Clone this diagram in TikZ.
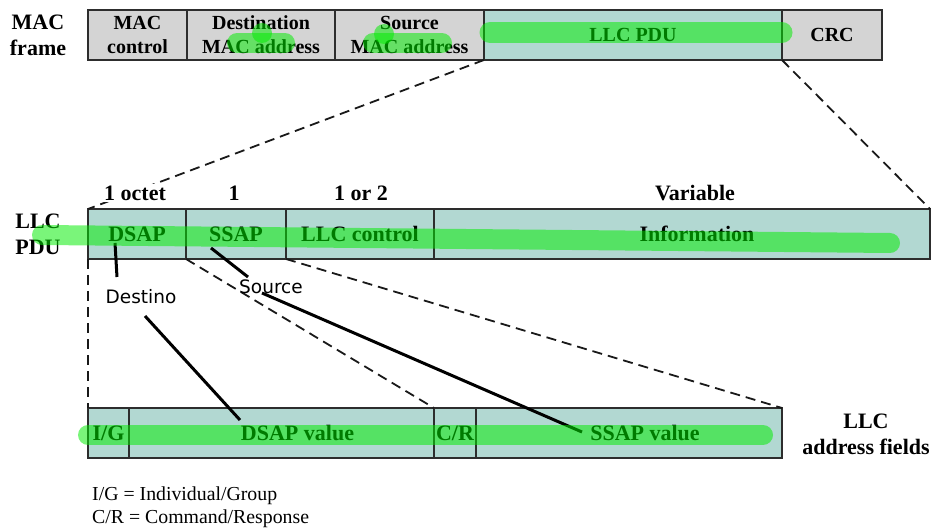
\documentclass[tikz,border=0pt]{standalone}
\usepackage{fontspec}
\setmainfont{Liberation Serif}
\newfontfamily\annfont{DejaVu Sans}
\definecolor{macgray}{RGB}{212,212,212}
\definecolor{llcteal}{RGB}{178,216,210}
\definecolor{boxline}{RGB}{45,45,45}
\definecolor{hlgreen}{RGB}{0,236,0}
\tikzset{
  field/.style={draw=boxline, line width=2.2pt, minimum height=50pt, inner sep=0pt, outer sep=0pt,
    font=\fontsize{22}{26}\selectfont\bfseries, align=center},
  topfield/.style={field, font=\fontsize{20}{24}\selectfont\bfseries},
  macfield/.style={topfield, fill=macgray},
  toptealfield/.style={topfield, fill=llcteal},
  llcfield/.style={field, fill=llcteal},
  lbl/.style={font=\fontsize{22}{26}\selectfont\bfseries, align=center, inner sep=0pt},
  sizelbl/.style={lbl, fill=white, inner sep=2pt},
  note/.style={font=\fontsize{19.8}{23}\selectfont, align=left, inner sep=0pt, anchor=west},
  anntext/.style={font=\annfont\fontsize{18.5}{22}\selectfont, inner sep=0pt},
  dashline/.style={black!90, line width=1.8pt, dash pattern=on 10pt off 6pt},
  annline/.style={black, line width=3pt},
  hl/.style={hlgreen, opacity=0.52, line width=20pt, line cap=round},
}
\begin{document}
\begin{tikzpicture}[x=1pt,y=-1pt]
\useasboundingbox (0,0) rectangle (934,529);

% MAC frame
\node[lbl] (macfr) at (38,35) {MAC\\frame};
\node[macfield, minimum width=99pt]  (macctl) at (137.5,35) {MAC\\control};
\node[macfield, minimum width=148pt] (dstmac) at (261,35) {Destination\\MAC address};
\node[macfield, minimum width=149pt] (srcmac) at (409.5,35) {Source\\MAC address};
\node[toptealfield, minimum width=298pt] (llcpdu) at (633,35) {LLC PDU};
\node[macfield, minimum width=100pt] (crc) at (832,35) {CRC};

% LLC PDU
\node[lbl] (llclbl) at (38,234) {LLC\\PDU};
\node[llcfield, minimum width=98pt]  (dsap) at (137,234) {DSAP};
\node[llcfield, minimum width=100pt] (ssap) at (236,234) {SSAP};
\node[llcfield, minimum width=148pt] (ctrl) at (360,234) {LLC control};
\node[llcfield, minimum width=496pt] (info) at (682,234) {\hspace*{30pt}Information};

% LLC address fields
\node[llcfield, minimum width=41pt]  (ig) at (108.5,433) {I/G};
\node[llcfield, minimum width=305pt] (dsapv) at (281.5,433) {\hspace*{32pt}DSAP value};
\node[llcfield, minimum width=42pt]  (cr) at (455,433) {C/R};
\node[llcfield, minimum width=306pt] (ssapv) at (629,433) {\hspace*{32pt}SSAP value};
\node[lbl] (addrlbl) at (866,434) {LLC\\address fields};

% notes
\node[note] (notes) at (92,507) {I/G = Individual/Group\\C/R = Command/Response};

% expansion lines
\draw[dashline] (llcpdu.south west) -- (dsap.north west);
\draw[dashline] (llcpdu.south east) -- (info.north east);
\draw[dashline] (dsap.south west) -- (ig.north west);
\draw[dashline] (dsap.south east) -- (dsapv.north east);
\draw[dashline] (ssap.south east) -- (ssapv.north east);

% field sizes
\node[sizelbl] (sz1) at (135,193) {1 octet};
\node[sizelbl] (sz2) at (234,193) {1};
\node[sizelbl] (sz3) at (361,193) {1 or 2};
\node[sizelbl] (sz4) at (695,193) {Variable};

% annotations
\node[anntext] (dest) at (141,297) {Destino};
\node[anntext] (src) at (271,287) {Source};
\coordinate (a1) at (115,243);
\coordinate (a2) at (117,277);
\coordinate (b1) at (145,316);
\coordinate (b2) at (240,420);
\coordinate (c1) at (211,248);
\coordinate (c2) at (248,277);
\coordinate (d1) at (262,293);
\coordinate (d2) at (582,432);
\draw[annline] (a1) -- (a2);
\draw[annline] (b1) -- (b2);
\draw[annline] (c1) -- (c2);
\draw[annline] (d1) -- (d2);

% highlighter strokes
\draw[hl] (237,43) -- (285,43);
\fill[hlgreen, opacity=0.52] (262,33) circle (10);
\draw[hl] (373,43) -- (442,43);
\fill[hlgreen, opacity=0.52] (384,34) circle (10);
\draw[hl, line width=21pt] (490,32.5) -- (782,32.5);
\draw[hl] (42,235) -- (890,243);
\draw[hl] (88,435) -- (763,435);
\end{tikzpicture}
\end{document}
